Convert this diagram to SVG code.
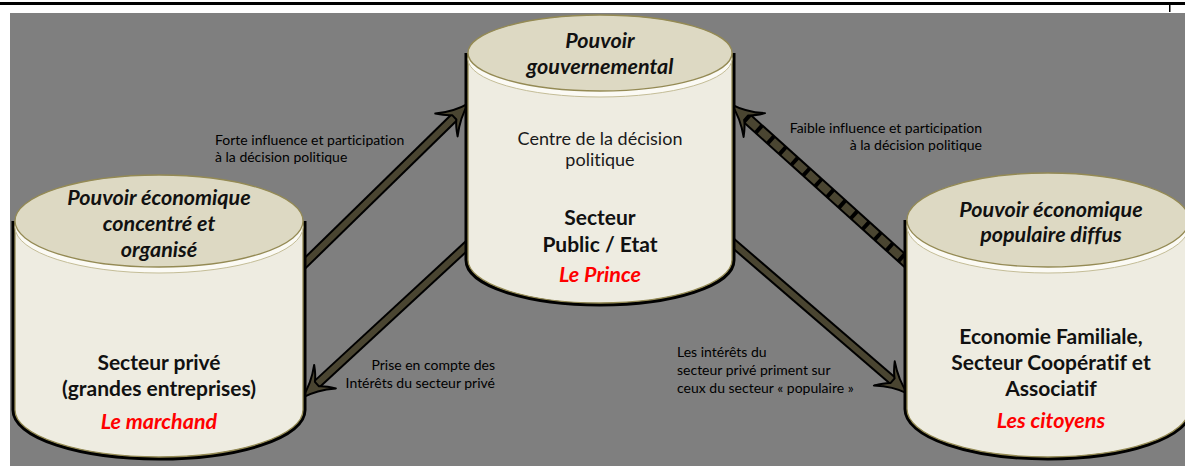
<svg xmlns="http://www.w3.org/2000/svg" width="1185" height="466" viewBox="0 0 1185 466">
<style>
  text { font-variant-ligatures: none; }
  .t { font-family: Lato, "Open Sans", "Liberation Sans", sans-serif; fill: #111; text-anchor: middle; }
  .title { font-size: 21.5px; font-weight: bold; font-style: italic; }
  .body { font-size: 21px; font-weight: bold; }
  .reg { font-size: 18px; font-weight: normal; fill: #1a1a1a; }
  .red { font-size: 21.5px; font-weight: bold; font-style: italic; fill: #ff0000; }
  .lbl { font-family: Lato, "Open Sans", "Liberation Sans", sans-serif; font-size: 14px; fill: #000; }
  .end { text-anchor: end; }
  .shadow { fill: none; stroke: #000; stroke-width: 7; }
  .cyl { fill: #eeece1; stroke: #948a54; stroke-width: 1.3; }
  .rim { fill: #fbfaf4; stroke: #c4bd97; stroke-width: 1; }
  .top { fill: #ddd9c3; stroke: #948a54; stroke-width: 1.3; }
  .casing { fill: none; stroke: #000; stroke-width: 10; }
  .core { fill: none; stroke: #4a4531; stroke-width: 6; marker-end: url(#head); }
  .dcasing { stroke-width: 12; }
  .dashed { stroke-width: 8; stroke-dasharray: 12 4; }
</style>
<defs>
  <marker id="head" markerUnits="userSpaceOnUse" orient="auto" refX="0" refY="0" markerWidth="60" markerHeight="60" viewBox="-30 -30 60 60" overflow="visible">
    <path d="M19,0 Q3,-4 -12,-16 Q-6,-7 -1,-3 L-1,3 Q-6,7 -12,16 Q3,4 19,0 Z" fill="#4a4531" stroke="#000" stroke-width="2" stroke-linejoin="round"/>
  </marker>
</defs>

<rect x="0" y="0" width="1185" height="466" fill="#ffffff"/>
<rect x="0" y="2" width="1185" height="3" fill="#000"/>
<rect x="1169" y="3" width="1.5" height="9" fill="#000"/>
<rect x="10" y="13" width="1175" height="453" fill="#7f7f7f"/>

<g id="connectors">
  <g id="c-forte">
    <path class="casing" d="M298,270 L455,116.6"/>
    <path class="core" d="M298,270 L455,116.6"/>
  </g>
  <g id="c-prise">
    <path class="casing" d="M472,241 L316.2,384.8"/>
    <path class="core" d="M472,241 L316.2,384.8"/>
  </g>
  <g id="c-faible">
    <path class="casing dcasing" d="M912,267 L745.4,117"/>
    <path class="core dashed" d="M912,267 L745.4,117"/>
  </g>
  <g id="c-interets">
    <path class="casing" d="M727,238 L893.4,381.3"/>
    <path class="core" d="M727,238 L893.4,381.3"/>
  </g>
</g>

<g id="node-prive">
  <path class="shadow" d="M15,221 L15,410 A144,47 0 0 0 303,410 L303,221"/>
  <path class="cyl" d="M15,221 L15,410 A144,47 0 0 0 303,410 L303,221 Z"/>
  <ellipse class="rim" cx="159" cy="227" rx="144" ry="46"/>
  <ellipse class="top" cx="159" cy="221" rx="144" ry="46"/>
  <text class="t title" x="159" y="205">Pouvoir économique</text>
  <text class="t title" x="159" y="231">concentré et</text>
  <text class="t title" x="159" y="257">organisé</text>
  <text class="t body" x="159" y="370">Secteur privé</text>
  <text class="t body" x="159" y="396">(grandes entreprises)</text>
  <text class="t red" x="159" y="429">Le marchand</text>
</g>

<g id="node-etat">
  <path class="shadow" d="M468,53 L468,260 A132,43 0 0 0 732,260 L732,53"/>
  <path class="cyl" d="M468,53 L468,260 A132,43 0 0 0 732,260 L732,53 Z"/>
  <ellipse class="rim" cx="600" cy="59" rx="132" ry="38"/>
  <ellipse class="top" cx="600" cy="53" rx="132" ry="38"/>
  <text class="t title" x="600" y="48">Pouvoir</text>
  <text class="t title" x="600" y="74">gouvernemental</text>
  <text class="t reg" x="600" y="145">Centre de la décision</text>
  <text class="t reg" x="600" y="166">politique</text>
  <text class="t body" x="600" y="225">Secteur</text>
  <text class="t body" x="600" y="252">Public / Etat</text>
  <text class="t red" x="600" y="282">Le Prince</text>
</g>

<g id="node-citoyens">
  <path class="shadow" d="M907,220 L907,409 A141,48 0 0 0 1189,409 L1189,220"/>
  <path class="cyl" d="M907,220 L907,409 A141,48 0 0 0 1189,409 L1189,220 Z"/>
  <ellipse class="rim" cx="1048" cy="226" rx="141" ry="47"/>
  <ellipse class="top" cx="1048" cy="220" rx="141" ry="47"/>
  <text class="t title" x="1051" y="217">Pouvoir économique</text>
  <text class="t title" x="1051" y="242">populaire diffus</text>
  <text class="t body" x="1051" y="344">Economie Familiale,</text>
  <text class="t body" x="1051" y="370">Secteur Coopératif et</text>
  <text class="t body" x="1051" y="396">Associatif</text>
  <text class="t red" x="1051" y="428">Les citoyens</text>
</g>

<g id="labels">
  <text class="lbl" x="215" y="145">Forte influence et participation</text>
  <text class="lbl" x="215" y="162">à la décision politique</text>
  <text class="lbl end" x="982" y="133">Faible influence et participation</text>
  <text class="lbl end" x="982" y="150">à la décision politique</text>
  <text class="lbl end" x="495" y="370">Prise en compte des</text>
  <text class="lbl end" x="495" y="388">Intérêts du secteur privé</text>
  <text class="lbl" x="677" y="357">Les intérêts du</text>
  <text class="lbl" x="677" y="375">secteur privé priment sur</text>
  <text class="lbl" x="677" y="393">ceux du secteur « populaire »</text>
</g>
</svg>
